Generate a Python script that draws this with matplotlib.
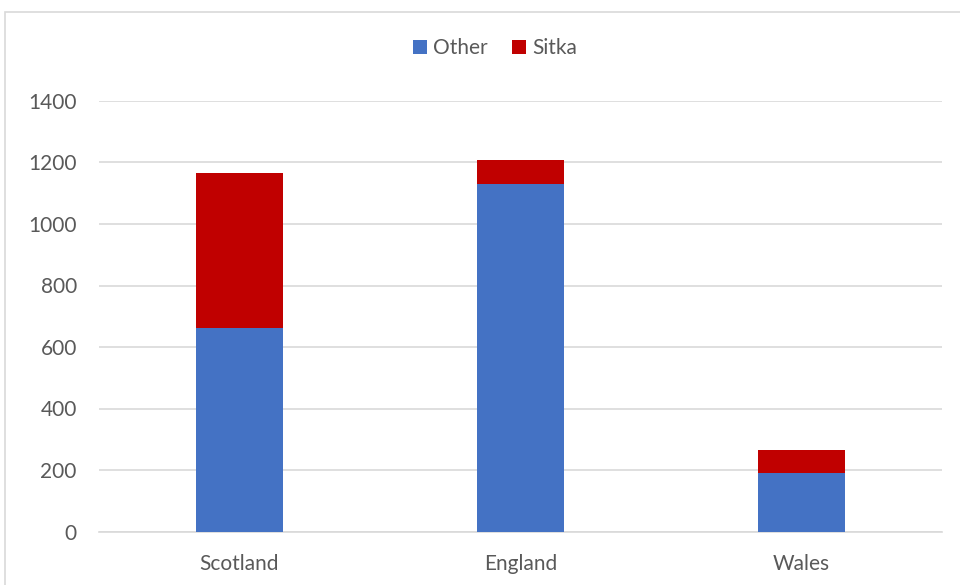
import matplotlib
matplotlib.use("Agg")
import matplotlib.pyplot as plt
from matplotlib.patches import Rectangle

categories = ["Scotland", "England", "Wales"]
other = [662, 1130, 191]
sitka = [505, 78, 74]
y_ticks = [0, 200, 400, 600, 800, 1000, 1200, 1400]

BLUE = "#4472C4"
RED = "#C00000"
GRID = "#D9D9D9"
TEXT = "#595959"

plt.rcParams["font.family"] = ["Lato", "DejaVu Sans"]

W, H = 960, 585
fig = plt.figure(figsize=(W / 100, H / 100), dpi=100)

# outer chart border (light grey frame, running off the right/bottom edge)
fig.patches.append(Rectangle((5 / W, -0.1), 1.2, 1.1 - 12 / H, transform=fig.transFigure,
                             fill=False, edgecolor="#D9D9D9", linewidth=1.2))

ax = fig.add_axes([99 / W, 1 - 531.5 / H, (942 - 99) / W, (531.5 - 101) / H])

x = range(len(categories))
ax.bar(x, other, width=0.313, color=BLUE, label="Other", zorder=3)
ax.bar(x, sitka, width=0.313, bottom=other, color=RED, label="Sitka", zorder=3)

ax.set_xlim(-0.5, 2.5)
ax.set_ylim(0, 1400)
ax.set_yticks(y_ticks)
ax.set_xticks(list(x))
ax.set_xticklabels(categories)
ax.yaxis.grid(True, color=GRID, linewidth=1.2, zorder=0)
ax.tick_params(axis="both", length=0, labelsize=15, colors=TEXT)
ax.tick_params(axis="y", pad=16)
ax.tick_params(axis="x", pad=16)
for side in ["top", "right", "left"]:
    ax.spines[side].set_visible(False)
ax.spines["bottom"].set_color(GRID)
ax.spines["bottom"].set_linewidth(1.2)

ax.legend(loc="center", bbox_to_anchor=(495 / W, 1 - 48 / H), bbox_transform=fig.transFigure,
          ncol=2, frameon=False, fontsize=15, labelcolor=TEXT,
          handlelength=0.65, handleheight=0.65, handletextpad=0.3, columnspacing=1.2)

fig.savefig("out.png", dpi=100)
